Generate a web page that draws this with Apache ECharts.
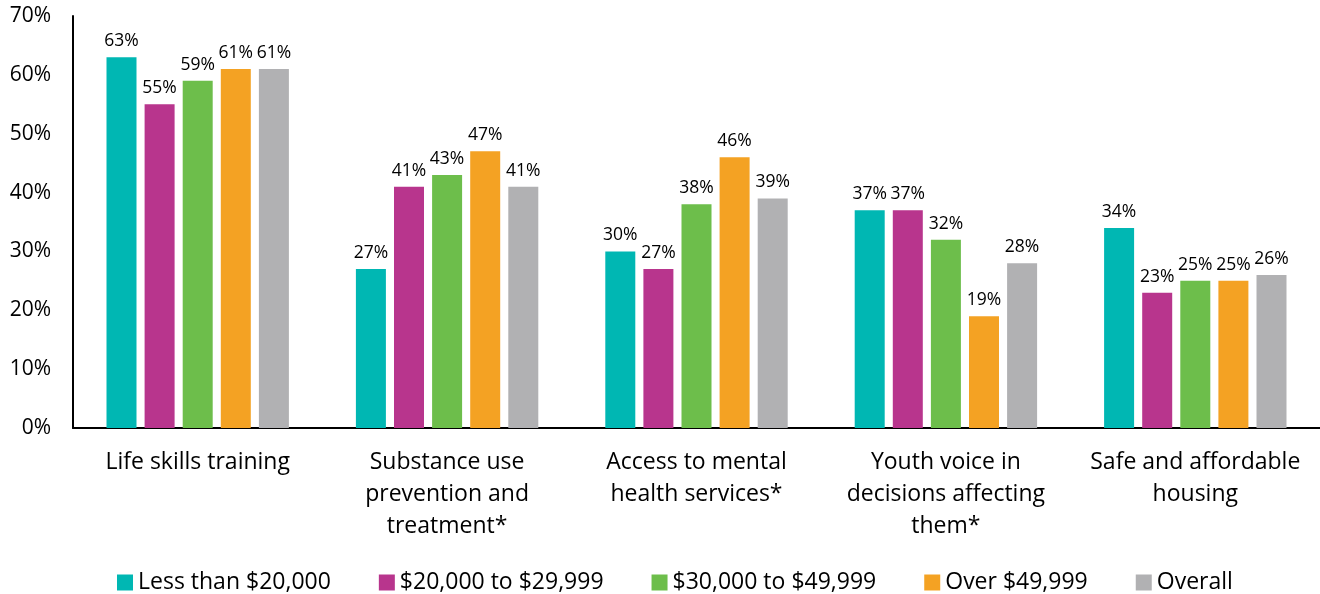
<!DOCTYPE html>
<html><head><meta charset="utf-8">
<script src="https://cdn.jsdelivr.net/npm/echarts@6/dist/echarts.min.js"></script>
<style>html,body{margin:0;padding:0;background:#fff}#c{width:1320px;height:594px}</style>
</head><body><div id="c"></div>
<script>
const categories = ["Life skills training","Substance use\nprevention and\ntreatment*","Access to mental\nhealth services*","Youth voice in\ndecisions affecting\nthem*","Safe and affordable\nhousing"];
const seriesNames = ["Less than $20,000","$20,000 to $29,999","$30,000 to $49,999","Over $49,999","Overall"];
const lessThan20k = [63,27,30,37,34];
const from20kTo30k = [55,41,27,37,23];
const from30kTo50k = [59,43,38,32,25];
const over50k = [61,47,46,19,25];
const overall = [61,41,39,28,26];
const colors = ["#00B7B3","#B8358D","#6DBE4B","#F4A223","#B1B1B3"];
const yTicks = [0,10,20,30,40,50,60,70];
const values = [lessThan20k, from20kTo30k, from30kTo50k, over50k, overall];
const font = "'Open Sans', 'Liberation Sans', sans-serif";
const chart = echarts.init(document.getElementById('c'));
chart.setOption({
  animation:false,
  color: colors,
  textStyle:{fontFamily:font},
  grid:{left:73,right:0,top:16,bottom:166,containLabel:false},
  legend:{top:566,left:112,itemWidth:16,itemHeight:16,itemGap:48,icon:'rect',
    textStyle:{fontSize:23,color:'#000',fontFamily:font}, data:seriesNames},
  xAxis:{type:'category',data:categories,
    axisLine:{lineStyle:{color:'#000',width:2}},axisTick:{show:false},
    axisLabel:{fontSize:23,color:'#000',lineHeight:32,margin:18,interval:0,fontFamily:font}},
  yAxis:{type:'value',min:yTicks[0],max:yTicks[yTicks.length-1],interval:10,
    splitLine:{show:false},
    axisLine:{show:true,lineStyle:{color:'#000',width:2}},axisTick:{show:false},
    axisLabel:{fontSize:21,color:'#000',margin:22,formatter:v=>v+'%',fontFamily:font}},
  series: seriesNames.map((n,i)=>({
    name:n,type:'bar',data:values[i],barWidth:30,barGap:'27%',
    itemStyle:{color:colors[i]},
    label:{show:true,position:'top',distance:7,formatter:p=>p.value+'%',fontSize:17.5,color:'#000',fontFamily:font}
  }))
});
</script></body></html>
